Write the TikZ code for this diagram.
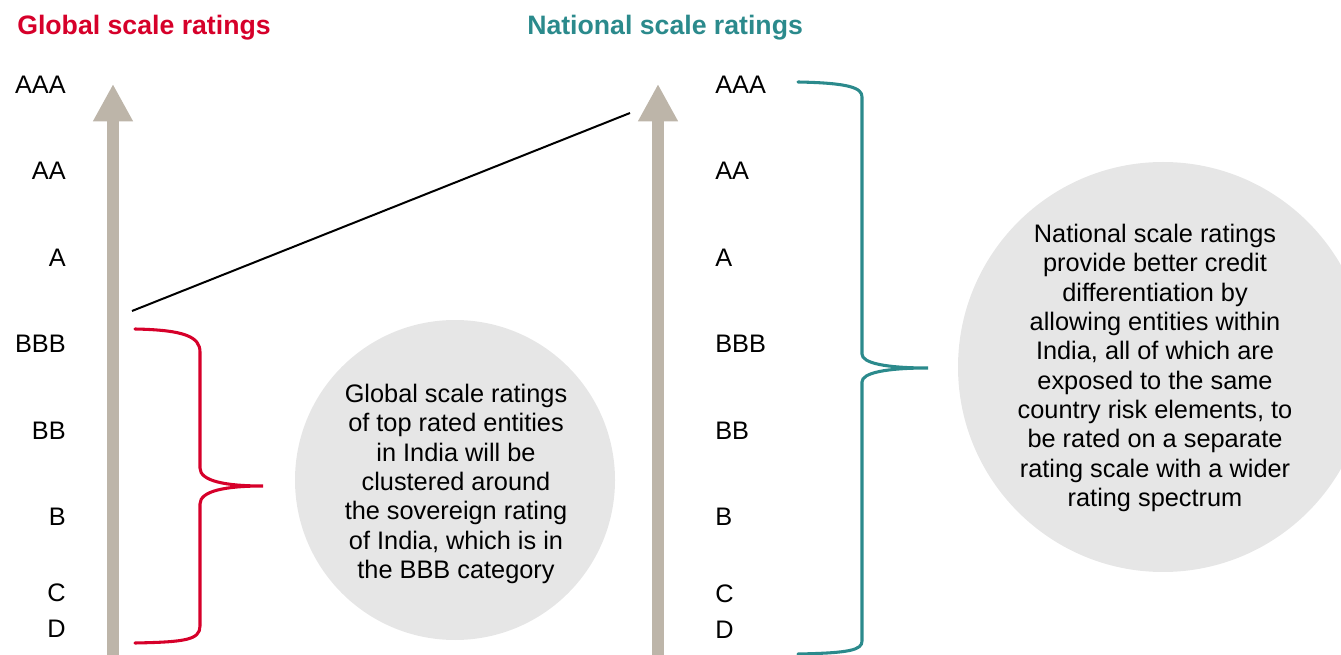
\documentclass[tikz,border=0pt]{standalone}
\usepackage{fontspec}
\setmainfont{Liberation Sans}
\usepackage{tikz}
\usetikzlibrary{arrows.meta,positioning}
\definecolor{globalred}{HTML}{D6002A}
\definecolor{natteal}{HTML}{2B8A8C}
\definecolor{axisgrey}{HTML}{BDB5A9}
\definecolor{bubblegrey}{HTML}{E6E6E6}

\begin{document}
\begin{tikzpicture}[x=0.75pt, y=-0.75pt,
  rating/.style={font=\fontsize{19}{22}\selectfont, inner sep=0pt},
  heading/.style={font=\bfseries\fontsize{20}{24}\selectfont, inner sep=0pt, anchor=base west},
  scalearrow/.style={axisgrey, line width=9pt, -{Triangle[width=28pt,length=28pt]}},
  brace/.style={line width=2.3pt, line cap=round},
  bubble/.style={circle, fill=bubblegrey, draw=none, inner sep=0pt},
  bubbletext/.style={align=center, font=\fontsize{19}{22}\selectfont, inner sep=0pt}]
\useasboundingbox (0,0) rectangle (1341,655);
\clip (0,0) rectangle (1341,655);

% grey bubbles behind everything
\node[bubble, minimum size=240pt] (gbubble) at (455,480) {};
\node[bubble, minimum size=307.5pt] (nbubble) at (1163,367) {};

% the two rating scales
\draw[scalearrow] (113,660) -- (113,84);
\draw[scalearrow] (658,660) -- (658,84);

\node[heading, globalred] (gtitle) at (17,35) {Global scale ratings};
\node[heading, natteal] (ntitle) at (527,35) {National scale ratings};

% global scale, right aligned
\node[rating, anchor=east] (gAAA) at (66,85)  {AAA};
\node[rating, anchor=east] (gAA)  at (66,171) {AA};
\node[rating, anchor=east] (gA)   at (66,258) {A};
\node[rating, anchor=east] (gBBB) at (66,344) {BBB};
\node[rating, anchor=east] (gBB)  at (66,431) {BB};
\node[rating, anchor=east] (gB)   at (66,517) {B};
\node[rating, anchor=east] (gC)   at (66,593) {C};
\node[rating, anchor=east] (gD)   at (66,629) {D};

% national scale, left aligned
\node[rating, anchor=west] (nAAA) at (715,85)  {AAA};
\node[rating, anchor=west] (nAA)  at (715,171) {AA};
\node[rating, anchor=west] (nA)   at (715,258) {A};
\node[rating, anchor=west] (nBBB) at (715,344) {BBB};
\node[rating, anchor=west] (nBB)  at (715,431) {BB};
\node[rating, anchor=west] (nB)   at (715,517) {B};
\node[rating, anchor=west] (nC)   at (715,594) {C};
\node[rating, anchor=west] (nD)   at (715,630) {D};

% mapping line between the scales
\coordinate (mapfrom) at (132,311);
\coordinate (mapto) at (630,113);
\draw[line width=1.5pt] (mapfrom) -- (mapto);

% braces
\draw[brace, globalred] (135,329) .. controls (185,330) and (200,337) .. (200,352)
  -- (200,468) .. controls (200,481) and (225,486) .. (263,486)
  .. controls (225,486) and (200,491) .. (200,504)
  -- (200,626) .. controls (200,640) and (185,642) .. (135,643);
\draw[brace, natteal] (798,82) .. controls (850,83) and (862,88) .. (862,97)
  -- (862,354) .. controls (862,363) and (885,368) .. (928,368)
  .. controls (885,368) and (862,373) .. (862,382)
  -- (862,641) .. controls (862,650) and (850,653) .. (798,654);

\node[bubbletext] (gnote) at (456,484)
  {Global scale ratings\\of top rated entities\\in India will be\\clustered around\\the sovereign rating\\of India, which is in\\the BBB category};
\node[bubbletext] (nnote) at (1155,368)
  {National scale ratings\\provide better credit\\differentiation by\\allowing entities within\\India, all of which are\\exposed to the same\\country risk elements, to\\be rated on a separate\\rating scale with a wider\\rating spectrum};
\end{tikzpicture}
\end{document}
